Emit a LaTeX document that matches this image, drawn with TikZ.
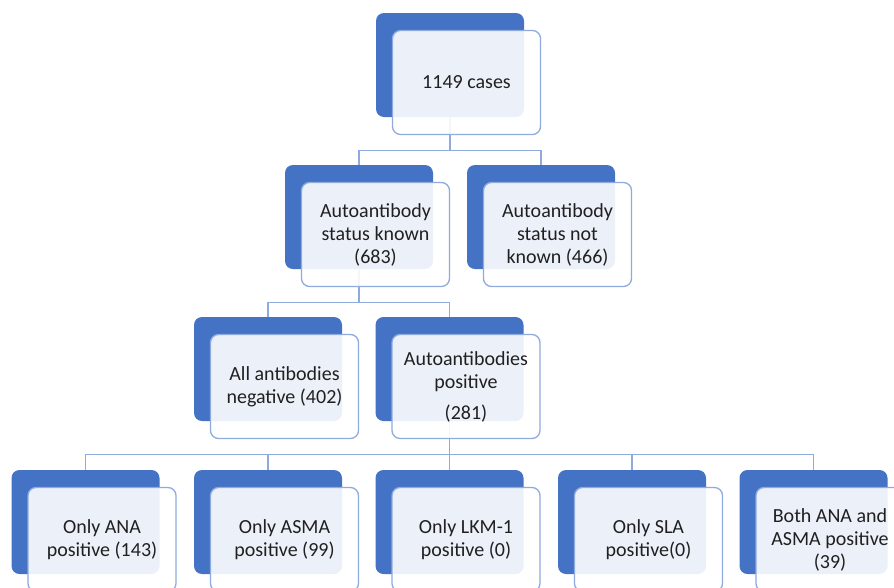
\documentclass[tikz,border=0pt]{standalone}
\usepackage{fontspec}
\setmainfont{Carlito}
\definecolor{dk}{HTML}{4472C4}
\definecolor{ln}{HTML}{8FAADC}
\definecolor{txt}{HTML}{202020}
\begin{document}
\begin{tikzpicture}[x=1pt,y=-1pt,
  dark/.style={fill=dk, rounded corners=8pt, minimum width=148pt, minimum height=104pt, inner sep=0pt},
  light/.style={fill=white, fill opacity=0.9, text opacity=1, draw=ln, line width=1.3pt,
    rounded corners=8pt, minimum width=148pt, minimum height=104pt, inner sep=0pt,
    align=center, text=txt, font=\fontsize{20}{23}\selectfont},
  conn/.style={draw=ln, line width=1.2pt}]
\useasboundingbox (0,0) rectangle (894,587);
\clip (0,0) rectangle (894,587);
% dark back boxes
\node[dark] (d0) at (450,65) {};
\node[dark] (d1a) at (359,217) {};
\node[dark] (d1b) at (541,217) {};
\node[dark] (d2a) at (268,369) {};
\node[dark] (d2b) at (449.5,369) {};
\node[dark] (d3a) at (85.5,522) {};
\node[dark] (d3b) at (268,522) {};
\node[dark] (d3c) at (449.5,522) {};
\node[dark] (d3d) at (632,522) {};
\node[dark] (d3e) at (813.5,522) {};
% connectors
\draw[conn] (d0.south) -- ++(0,33) -| (d1a.north);
\draw[conn] (d0.south) -- ++(0,33) -| (d1b.north);
\draw[conn] (d1a.south) -- ++(0,33) -| (d2a.north);
\draw[conn] (d1a.south) -- ++(0,33) -| (d2b.north);
\foreach \c in {d3a,d3b,d3c,d3d,d3e}
  \draw[conn] (d2b.south) -- ++(0,33) -| (\c.north);
% light front boxes
\node[light] (l0) at (466.5,82.5) {1149 cases};
\node[light] (l1a) at (375.5,234.5) {Autoantibody\\status known\\(683)};
\node[light] (l1b) at (557.5,234.5) {Autoantibody\\status not\\known (466)};
\node[light] (l2a) at (284.5,386.5) {All antibodies\\negative (402)};
\node[light] (l2b) at (466,386.5) {Autoantibodies\\positive\\[8pt](281)};
\node[light] (l3a) at (102,539.5) {Only ANA\\positive (143)};
\node[light] (l3b) at (284.5,539.5) {Only ASMA\\positive (99)};
\node[light] (l3c) at (466,539.5) {Only LKM-1\\positive (0)};
\node[light] (l3d) at (648.5,539.5) {Only SLA\\positive(0)};
\node[light] (l3e) at (830,539.5) {Both ANA and\\ASMA positive\\(39)};
\end{tikzpicture}
\end{document}
